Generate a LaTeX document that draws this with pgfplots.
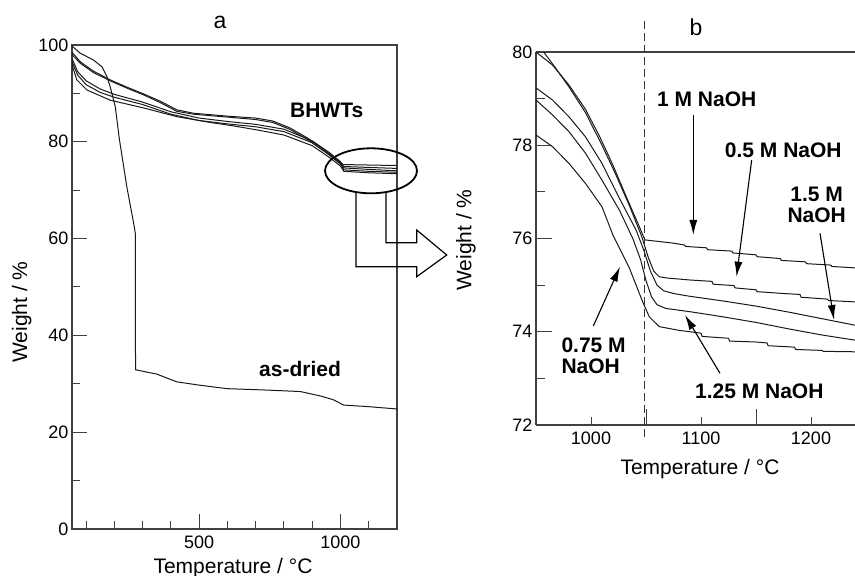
\documentclass[border=0pt]{standalone}
\usepackage{fontspec}
\setmainfont{Liberation Sans}
\usepackage{pgfplots}
\pgfplotsset{compat=1.18}
\usetikzlibrary{arrows.meta}

\pgfplotsset{
  tga/.style={
    scale only axis, anchor=south west, clip=false,
    axis line style={black!75, line width=1.1pt},
    every tick/.style={black!75, line width=1pt},
    tick align=inside,
    tick label style={font=\fontsize{18}{18}\selectfont},
    xticklabel style={yshift=-3pt},
    /pgf/number format/assume math mode=true,
    /pgf/number format/1000 sep={},
  },
  curve/.style={black!90, line width=1pt},
}
\newcommand{\lbl}{\fontsize{21}{21}\selectfont\bfseries}

\begin{document}
\begin{tikzpicture}
\useasboundingbox (0pt,0pt) rectangle (855pt,576pt);

% ---- panel a ----
\begin{axis}[tga, at={(72pt,47pt)}, width=325pt, height=484pt,
  xmin=50, xmax=1200, ymin=0, ymax=100,
  xtick={500,1000}, minor xtick={100,200,300,400,600,700,800,900,1100},
  ytick={0,20,...,100}, minor ytick={10,30,50,70,90},
  major tick length=15pt, minor tick length=8pt, tick pos=left]
% as-dried
\addplot[curve] coordinates {(50,99.8) (79,98.3) (126,96.9) (156,95.5) (174,93.4) (185,91.4)
  (203,87.3) (218,80.4) (244,70.7) (268,63.2) (274,61.1) (274.5,38.4) (275,32.9) (350,32.0)
  (421,30.4) (503,29.7) (598,29.0) (740,28.7) (858,28.4) (928,27.5) (975,26.7) (1011,25.6)
  (1094,25.3) (1200,24.8)};
% BHWTs
\addplot[curve] coordinates {(50,98.5) (80,96.5) (126,94.6) (185,92.8) (244,91.3) (303,89.9)
  (362,88.4) (421,86.6) (480,85.9) (600,85.3) (700,84.9) (760,84.3) (820,82.9) (880,80.9)
  (940,78.5) (990,76.2) (1010,75.3) (1100,75.2) (1200,75.1)};
\addplot[curve] coordinates {(50,98.0) (80,96.2) (126,94.3) (185,92.6) (244,91.1) (303,89.7)
  (362,88.1) (421,86.3) (480,85.7) (600,85.1) (700,84.6) (760,84.0) (820,82.6) (880,80.6)
  (940,78.2) (990,76.0) (1012,74.9) (1100,74.7) (1200,74.5)};
\addplot[curve] coordinates {(50,97.2) (70,94.5) (100,92.6) (150,90.9) (200,89.8) (300,88.2)
  (400,86.2) (500,84.9) (600,84.2) (700,83.6) (800,82.6) (900,80.2) (960,77.8) (1000,75.9)
  (1012,74.6) (1100,74.3) (1200,74.0)};
\addplot[curve] coordinates {(50,96.5) (70,93.8) (100,91.8) (150,90.2) (200,89.2) (300,87.7)
  (400,85.7) (500,84.4) (600,83.7) (700,83.1) (800,82.1) (900,79.8) (960,77.3) (1000,75.4)
  (1012,74.2) (1100,73.9) (1200,73.7)};
\addplot[curve] coordinates {(50,95.9) (67,92.8) (103,90.7) (185,88.6) (303,87.0) (421,85.2)
  (539,84.0) (620,83.3) (710,82.4) (800,81.4) (900,79.2) (960,76.8) (1000,75.0) (1012,73.9)
  (1100,73.6) (1200,73.4)};
\end{axis}

% ---- panel b ----
\begin{axis}[tga, at={(536pt,151pt)}, width=319pt, height=373pt,
  xmin=950, xmax=1240, ymin=72, ymax=80,
  axis x line*=box, axis y line*=left,
  xtick={1050,1150}, xticklabels={},
  extra x ticks={1000,1100,1200}, extra x tick style={major tick length=8pt},
  ytick={72,74,...,80}, minor ytick={73,75,77,79},
  major tick length=16pt, minor tick length=9pt, tick pos=left]
% 1 M
\addplot[curve] coordinates {(950,80.0) (965,79.72) (980,79.29) (995,78.77) (1008,78.18)
  (1020,77.57) (1032,76.9) (1044,76.25) (1049,75.97) (1060,75.94) (1075,75.9) (1085,75.86)
  (1086,75.83) (1105,75.8) (1106,75.76) (1128,75.73) (1129,75.69) (1150,75.65) (1151,75.61)
  (1172,75.57) (1173,75.53) (1195,75.5) (1196,75.46) (1218,75.43) (1219,75.4) (1240,75.37)};
% 0.5 M
\addplot[curve] coordinates {(957,80.0) (968,79.65) (980,79.25) (995,78.7) (1010,78.0)
  (1022,77.4) (1035,76.7) (1046,76.05) (1052,75.6) (1057,75.3) (1062,75.18) (1070,75.15)
  (1090,75.11) (1110,75.08) (1111,75.02) (1130,74.99) (1131,74.94) (1150,74.9) (1151,74.86)
  (1175,74.82) (1190,74.8) (1191,74.74) (1215,74.7) (1216,74.67) (1240,74.64)};
% 1.5 M
\addplot[curve] coordinates {(950,79.23) (965,78.97) (980,78.61) (995,78.18) (1010,77.61)
  (1025,76.9) (1041,76.18) (1048,75.75) (1054,75.3) (1060,75.0) (1066,74.88) (1075,74.82)
  (1090,74.76) (1120,74.66) (1150,74.55) (1180,74.42) (1210,74.28) (1240,74.14)};
% 1.25 M
\addplot[curve] coordinates {(950,78.97) (965,78.65) (980,78.29) (995,77.83) (1010,77.25)
  (1026,76.6) (1038,76.0) (1045,75.55) (1050,75.1) (1055,74.75) (1060,74.58) (1068,74.5)
  (1090,74.43) (1120,74.32) (1150,74.2) (1180,74.06) (1210,73.93) (1240,73.82)};
% 0.75 M
\addplot[curve] coordinates {(950,78.22) (965,77.97) (980,77.61) (995,77.18) (1010,76.68)
  (1020,76.07) (1035,75.36) (1047,74.64) (1053,74.32) (1062,74.11) (1080,74.03) (1090,74.0)
  (1100,73.97) (1101,73.9) (1125,73.86) (1126,73.8) (1150,73.78) (1160,73.76) (1161,73.7)
  (1185,73.67) (1186,73.62) (1210,73.6) (1211,73.58) (1240,73.57)};
\draw[black!80, line width=1pt, dash pattern=on 8pt off 4pt]
  (axis cs:1049,71.74) -- (axis cs:1049,80.69);
\end{axis}

% titles and axis labels
\node[font=\fontsize{23}{23}\selectfont] at (220pt,554pt) {a};
\node[font=\fontsize{23}{23}\selectfont] at (696pt,548.5pt) {b};
\node[font=\fontsize{21}{21}\selectfont, rotate=90] at (21.7pt,264pt) {Weight / \%};
\node[font=\fontsize{21}{21}\selectfont, rotate=90] at (466pt,336pt) {Weight / \%};
\node[font=\fontsize{21}{21}\selectfont, anchor=base] at (233pt,2.7pt) {Temperature / °C};
\node[font=\fontsize{21}{21}\selectfont, anchor=base] at (700pt,101pt) {Temperature / °C};

% labels in a
\node[font=\lbl] at (326.7pt,466pt) {BHWTs};
\node[font=\lbl] at (300pt,206.7pt) {as-dried};
\draw[line width=1.8pt] (371pt,405.2pt) ellipse [x radius=46pt, y radius=22.5pt];
\draw[line width=1.2pt, line join=miter] (356pt,384pt) -- (356pt,309.3pt) -- (416.7pt,309.3pt)
  -- (416.7pt,299.3pt) -- (446.7pt,321pt) -- (416.7pt,346pt) -- (416.7pt,333.3pt)
  -- (386pt,333.3pt) -- (386pt,384pt);

% labels in b
\node[font=\lbl] at (706.7pt,476.7pt) {1 M NaOH};
\node[font=\lbl] at (783.3pt,426pt) {0.5 M NaOH};
\node[font=\lbl, align=center] at (816.7pt,371.5pt) {1.5 M\\NaOH};
\node[font=\lbl, align=left, anchor=west] at (558pt,220pt) {0.75 M\\NaOH};
\node[font=\lbl] at (759.3pt,184.3pt) {1.25 M NaOH};
\begin{scope}[line width=1.1pt, -{Latex[length=15pt,width=8pt]}]
  \draw (693.3pt,461pt) -- (693.3pt,341pt);
  \draw (751.7pt,416pt) -- (736.5pt,299.3pt);
  \draw (820pt,342.7pt) -- (834pt,256pt);
  \draw (593.3pt,250pt) -- (620pt,309.3pt);
  \draw (720pt,202.7pt) -- (685pt,261pt);
\end{scope}
\end{tikzpicture}
\end{document}
